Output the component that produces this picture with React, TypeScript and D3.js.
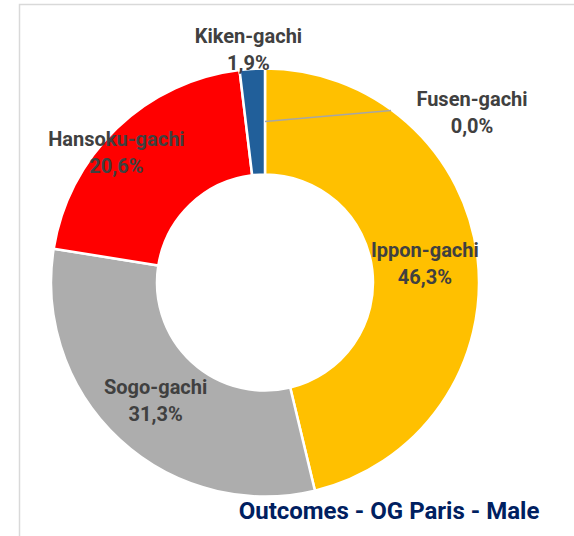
import React from 'react';
import * as d3 from 'd3';

// outcome categories, in the order they go round the ring (clockwise from the top)
const categories = ['Ippon-gachi', 'Sogo-gachi', 'Hansoku-gachi', 'Kiken-gachi', 'Fusen-gachi'];
const shares = [46.3, 31.3, 20.6, 1.9, 0.0];
const colors = ['#FFC000', '#ADADAD', '#FF0000', '#215F9A', '#70AD47'];

const title = 'Outcomes - OG Paris - Male';

const width = 574;
const height = 536;
const cx = 265;
const cy = 282.5;
const outerR = 214;
const innerR = 108;

// labels that were dragged away from their slice (offset from the centroid)
const labelShift: Record<string, [number, number]> = {
  'Hansoku-gachi': [-37, -14],
  'Kiken-gachi': [-7, -72],
  'Fusen-gachi': [207, -9],
};

const fmt = (v: number) => d3.format('.1f')(v).replace('.', ',') + '%';

export default function App() {
  const data = categories.map((c, i) => ({ name: c, value: shares[i], color: colors[i] }));

  const pie = d3.pie<any>().sort(null).value(d => d.value);
  const arcs = pie(data);

  const arc = d3.arc<any>().innerRadius(innerR).outerRadius(outerR);
  const mid = d3.arc<any>().innerRadius((innerR + outerR) / 2).outerRadius((innerR + outerR) / 2);

  const lineGap = 27;

  return (
    <svg width={width} height={height} style={{ position: 'absolute', left: 0, top: 0 }}
      fontFamily="Roboto, 'Noto Sans', sans-serif">
      <rect x={0} y={0} width={width} height={height} fill="#fff" />
      <rect x={19.5} y={4.5} width={700} height={700} fill="none" stroke="#D9D9D9" strokeWidth={1.5} />

      <g transform={`translate(${cx},${cy})`}>
        {arcs.map(a => (
          <path key={a.data.name} d={arc(a) || ''} fill={a.data.color}
            stroke="#fff" strokeWidth={a.data.value > 0 ? 2.5 : 0} />
        ))}

        {arcs.map(a => {
          const [x0, y0] = mid.centroid(a);
          const sh = labelShift[a.data.name] || [0, 0];
          const lx = x0 + sh[0];
          const ly = y0 + sh[1];
          const leader = a.data.name === 'Fusen-gachi';
          return (
            <g key={'l' + a.data.name}>
              {leader && (
                <line x1={x0} y1={y0} x2={lx - 81} y2={ly - 2} stroke="#A6A6A6" strokeWidth={1.5} />
              )}
              <text x={lx} y={ly} textAnchor="middle" fill="#404040" fontSize={20} fontWeight={700}>
                <tspan x={lx} dy={-lineGap / 2 + 7}>{a.data.name}</tspan>
                <tspan x={lx} dy={lineGap}>{fmt(a.data.value)}</tspan>
              </text>
            </g>
          );
        })}
      </g>

      <text x={389} y={519} textAnchor="middle" fill="#002060" fontSize={24} fontWeight={700}>
        {title}
      </text>
    </svg>
  );
}
